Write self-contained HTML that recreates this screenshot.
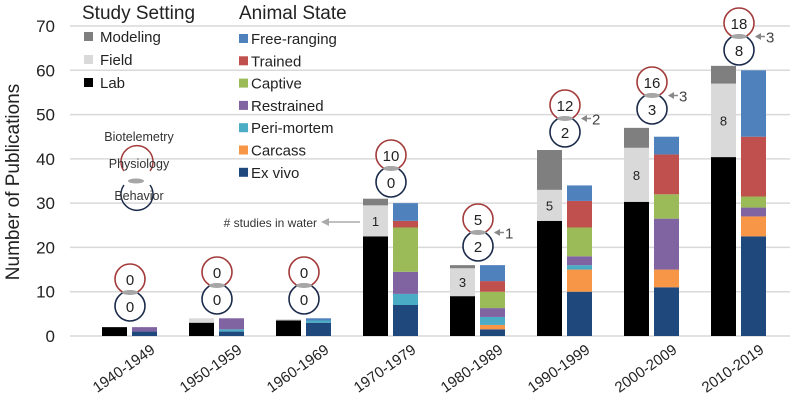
<!DOCTYPE html>
<html><head><meta charset="utf-8"><style>
body{margin:0;background:#fff}
svg{display:block;font-family:"Liberation Sans",sans-serif}
</style></head><body>
<svg id="chart" width="800" height="403" viewBox="0 0 800 403"></svg>
<script>
const categories=["1940-1949","1950-1959","1960-1969","1970-1979","1980-1989","1990-1999","2000-2009","2010-2019"];
const lab=[2,3,3.5,22.5,9,26,30.3,40.4];
const field=[0,1,0.3,7,6.3,7,12.2,16.6];
const modeling=[0,0,0,1.5,0.7,9,4.5,4];
const exVivo=[1,1,3,7,1.5,10,11,22.5];
const carcass=[0,0,0,0,1,5,4,4.5];
const periMortem=[0,0.5,0.5,2.5,1.8,1,0,0];
const restrained=[1,2.5,0,5,2,2,11.5,2];
const captive=[0,0,0,10,3.7,6.5,5.5,2.5];
const trained=[0,0,0,1.5,2.4,6,9,13.5];
const freeRanging=[0,0,0.5,4,3.6,3.5,4,15];
const biotelemetry=[0,0,0,10,5,12,16,18];
const behavior=[0,0,0,0,2,2,3,8];
const water=[null,null,null,1,3,5,8,8];
const waterArrow=[null,null,null,null,1,2,3,3];
const yTicks=[0,10,20,30,40,50,60,70];

const svg=document.getElementById('chart');
const NS="http://www.w3.org/2000/svg";
function mk(tag,attrs,parent){const e=document.createElementNS(NS,tag);for(const k in attrs)e.setAttribute(k,attrs[k]);(parent||svg).appendChild(e);return e;}
const y0=336,pxPerUnit=(336-26)/70;
function yS(v){return y0-v*pxPerUnit;}
function xB(i){return 130+87*i;}

yTicks.forEach(t=>{
 const g=mk('line',{x1:70,x2:790,y1:yS(t),y2:yS(t),stroke:'#d9d9d9','stroke-width':1.5});
 
 
 const l=mk('text',{x:55,y:yS(t)+6,'text-anchor':'end','font-size':17,fill:'#222'});
 l.textContent=t;
 
 
});
const yt=mk('text',{x:0,y:0,'text-anchor':'middle','font-size':19,fill:'#222',transform:'translate(19,182) rotate(-90)'});
yt.textContent='Number of Publications';



const setting=[[lab,'#000','lab'],[field,'#d9d9d9','field'],[modeling,'#7f7f7f','modeling']];
const state=[[exVivo,'#1f497d','ex-vivo'],[carcass,'#f79646','carcass'],[periMortem,'#4bacc6','peri-mortem'],[restrained,'#8064a2','restrained'],[captive,'#9bbb59','captive'],[trained,'#c0504d','trained'],[freeRanging,'#4f81bd','free-ranging']];

categories.forEach((c,i)=>{
 const xb=xB(i);
 let acc=0;
 setting.forEach(([arr,col,nm])=>{
  const v=arr[i]; if(v<=0)return;
  const r=mk('rect',{x:xb-28,y:yS(acc+v),width:25,height:v*pxPerUnit,fill:col});
  
  
  acc+=v;
 });
 if(water[i]!==null){
  const wt=mk('text',{x:xb-15.5,y:yS(lab[i]+field[i]/2)+5,'text-anchor':'middle','font-size':13,fill:'#222'});
  wt.textContent=water[i];
  
  
 }
 acc=0;
 state.forEach(([arr,col,nm])=>{
  const v=arr[i]; if(v<=0)return;
  const r=mk('rect',{x:xb+2,y:yS(acc+v),width:25,height:v*pxPerUnit,fill:col});
  
  
  acc+=v;
 });
 const xl=mk('text',{x:0,y:0,'text-anchor':'end','font-size':15,fill:'#222',transform:`translate(${xb+26},352) rotate(-35)`});
 xl.textContent=c;
 
 
});

const topY=[279,272,272,155,219,105,82,23];
categories.forEach((c,i)=>{
 const cx=xB(i),ty=topY[i],by=ty+27;
 const g=mk('g',{});
 
 
 mk('circle',{cx:cx,cy:ty,r:15,fill:'#fff',stroke:'#a33a3a','stroke-width':1.6},g);
 mk('circle',{cx:cx,cy:by,r:15,fill:'#fff',stroke:'#1a2a4a','stroke-width':1.6},g);
 mk('ellipse',{cx:cx,cy:(ty+by)/2,rx:8,ry:2.5,fill:'#a6a6a6'},g);
 const t1=mk('text',{x:cx,y:ty+6,'text-anchor':'middle','font-size':15,fill:'#222'},g);t1.textContent=biotelemetry[i];
 const t2=mk('text',{x:cx,y:by+6,'text-anchor':'middle','font-size':15,fill:'#222'},g);t2.textContent=behavior[i];
 if(waterArrow[i]!==null){
  const my=(ty+by)/2;
  mk('line',{x1:cx+26,x2:cx+17,y1:my,y2:my,stroke:'#888','stroke-width':1.5},g);
  mk('path',{d:`M${cx+16} ${my} l6 -3.5 v7z`,fill:'#888'},g);
  const a=mk('text',{x:cx+27,y:my+6,'font-size':15,fill:'#444'},g);a.textContent=waterArrow[i];
 }
});

const wl=mk('text',{x:317,y:227,'text-anchor':'end','font-size':12,fill:'#333'});
wl.textContent='# studies in water';


mk('line',{x1:360,x2:327,y1:222,y2:222,stroke:'#aaa','stroke-width':1.5});
mk('path',{d:'M321 222 l8 -4 v8z',fill:'#aaa'});

const kg=mk('g',{});


mk('path',{d:'M124 171 A16 16 0 1 1 150 171',fill:'none',stroke:'#a33a3a','stroke-width':1.5},kg);
mk('path',{d:'M124 185 A16 16 0 1 0 150 185',fill:'none',stroke:'#1a2a4a','stroke-width':1.5},kg);
mk('ellipse',{cx:136,cy:181,rx:8,ry:2.5,fill:'#a6a6a6'},kg);
[['Biotelemetry',141],['Physiology',168],['Behavior',200]].forEach(([t,y])=>{const e=mk('text',{x:139,y:y,'text-anchor':'middle','font-size':12.5,fill:'#333'},kg);e.textContent=t;});

function legendTitle(t,x,nm){const e=mk('text',{x:x,y:19,'font-size':19,fill:'#222'});e.textContent=t;}
legendTitle('Study Setting',82,'legend-title-study-setting');
legendTitle('Animal State',239,'legend-title-animal-state');
[['Modeling','#7f7f7f'],['Field','#d9d9d9'],['Lab','#000']].forEach(([t,c],k)=>{
 const g=mk('g',{});
 
 
 const y=37+k*23;
 mk('rect',{x:84,y:y-5,width:9,height:9,fill:c},g);
 const e=mk('text',{x:100,y:y+5,'font-size':15,fill:'#222'},g);e.textContent=t;
});
[['Free-ranging','#4f81bd'],['Trained','#c0504d'],['Captive','#9bbb59'],['Restrained','#8064a2'],['Peri-mortem','#4bacc6'],['Carcass','#f79646'],['Ex vivo','#1f497d']].forEach(([t,c],k)=>{
 const g=mk('g',{});
 
 
 const y=39+k*22.3;
 mk('rect',{x:239,y:y-5,width:9,height:9,fill:c},g);
 const e=mk('text',{x:251,y:y+5,'font-size':15,fill:'#222'},g);e.textContent=t;
});
</script>
</body></html>
